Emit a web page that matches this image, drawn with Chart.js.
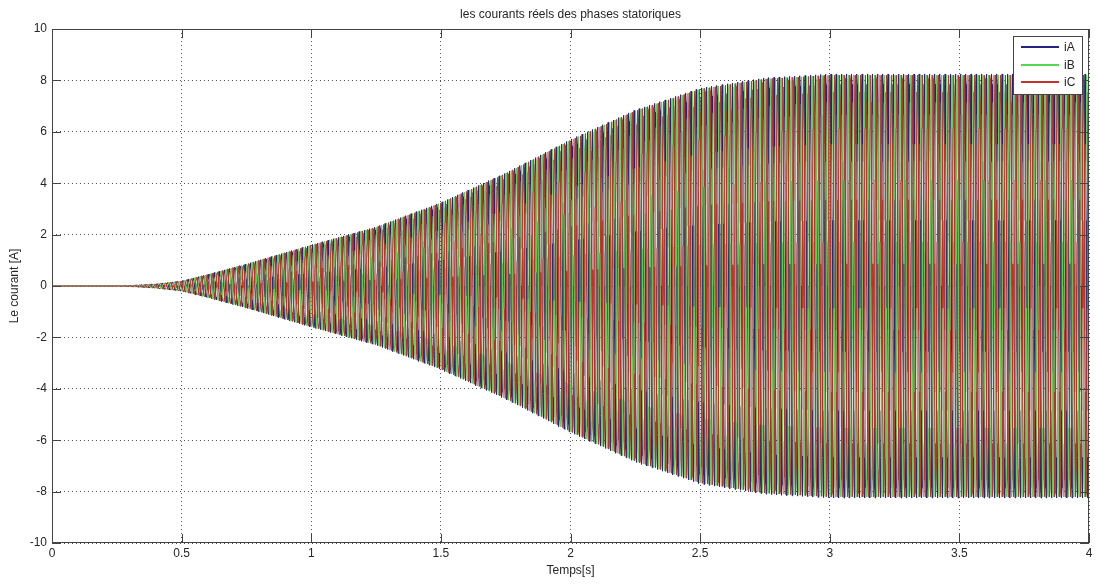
<!DOCTYPE html>
<html>
<head>
<meta charset="utf-8">
<script src="https://cdn.jsdelivr.net/npm/chart.js@4/dist/chart.umd.min.js"></script>
<style>
  html, body { margin: 0; padding: 0; background: #fff; }
  #wrap { width: 1097px; height: 585px; }
</style>
</head>
<body>
<div id="wrap"><canvas id="myChart" width="1097" height="585"></canvas></div>
<script>
// --- Data ---
const chartTitle = 'les courants réels des phases statoriques';
const xLabel = 'Temps[s]';
const yLabel = 'Le courant [A]';

const phaseNames = ['iA', 'iB', 'iC'];
const phaseColors = ['#24247e', '#55d655', '#c2322c'];
const phaseShiftDeg = [0, -120, 120];

// peak envelope of the currents (A) at given times (s)
const envTime = [0, 0.25, 0.3, 0.4, 0.5, 0.6, 0.75, 1.0, 1.25, 1.5, 1.75, 2.0, 2.25, 2.5, 2.75, 3.0, 3.5, 4.0];
const envAmp  = [0, 0, 0.02, 0.08, 0.2, 0.45, 0.86, 1.6, 2.3, 3.25, 4.4, 5.7, 6.85, 7.7, 8.1, 8.25, 8.25, 8.25];

const supplyFreq = 50;     // Hz
const sampleStep = 0.001;  // s
const tEnd = 4;

const xTicks = [0, 0.5, 1, 1.5, 2, 2.5, 3, 3.5, 4];
const yTicks = [-10, -8, -6, -4, -2, 0, 2, 4, 6, 8, 10];

// --- Build series ---
function envelopeAt(t) {
    for (let i = 1; i < envTime.length; i++) {
        if (t <= envTime[i]) {
            const f = (t - envTime[i - 1]) / (envTime[i] - envTime[i - 1]);
            return envAmp[i - 1] + f * (envAmp[i] - envAmp[i - 1]);
        }
    }
    return envAmp[envAmp.length - 1];
}

const nSamples = Math.round(tEnd / sampleStep);
const series = phaseShiftDeg.map(shift => {
    const pts = [];
    for (let k = 0; k <= nSamples; k++) {
        const t = k * sampleStep;
        pts.push({ x: t, y: envelopeAt(t) * Math.sin(2 * Math.PI * supplyFreq * t + shift * Math.PI / 180) });
    }
    return pts;
});

const FONT = "'Liberation Sans', Arial, sans-serif";
const TEXT_COLOR = '#262626';
const FRAME_COLOR = '#444';

// --- Frame, inward ticks, titles and legend ---
const matlabLook = {
    id: 'matlabLook',
    afterDraw(chart) {
        const ctx = chart.ctx;
        const a = chart.chartArea;
        const xs = chart.scales.x, ys = chart.scales.y;
        ctx.save();

        // frame
        ctx.strokeStyle = FRAME_COLOR;
        ctx.lineWidth = 1;
        ctx.strokeRect(a.left + 0.5, a.top + 0.5, a.right - a.left - 1, a.bottom - a.top - 1);

        // inward ticks
        ctx.beginPath();
        xTicks.forEach(v => {
            const px = Math.round(xs.getPixelForValue(v)) + 0.5;
            ctx.moveTo(px, a.bottom); ctx.lineTo(px, a.bottom - 9);
            ctx.moveTo(px, a.top); ctx.lineTo(px, a.top + 9);
        });
        yTicks.forEach(v => {
            const py = Math.round(ys.getPixelForValue(v)) + 0.5;
            ctx.moveTo(a.left, py); ctx.lineTo(a.left + 9, py);
            ctx.moveTo(a.right, py); ctx.lineTo(a.right - 9, py);
        });
        ctx.stroke();

        // texts
        ctx.fillStyle = TEXT_COLOR;
        ctx.font = '12px ' + FONT;
        ctx.textAlign = 'center';
        ctx.textBaseline = 'middle';
        const cx = (a.left + a.right) / 2;
        ctx.fillText(chartTitle, cx, 15);
        ctx.fillText(xLabel, cx, 571);
        ctx.save();
        ctx.translate(15, (a.top + a.bottom) / 2);
        ctx.rotate(-Math.PI / 2);
        ctx.fillText(yLabel, 0, 0);
        ctx.restore();

        // legend box (top right)
        const lx = 1013, ly = 36, lw = 69, lh = 58;
        ctx.fillStyle = '#fff';
        ctx.fillRect(lx, ly, lw, lh);
        ctx.strokeStyle = FRAME_COLOR;
        ctx.lineWidth = 1;
        ctx.strokeRect(lx + 0.5, ly + 0.5, lw, lh);
        ctx.textAlign = 'left';
        chart.data.datasets.forEach((ds, i) => {
            const yy = Math.round(ly + 11 + i * 17.5);
            ctx.strokeStyle = ds.borderColor;
            ctx.lineWidth = 2;
            ctx.beginPath();
            ctx.moveTo(lx + 8, yy);
            ctx.lineTo(lx + 46, yy);
            ctx.stroke();
            ctx.fillStyle = TEXT_COLOR;
            ctx.fillText(ds.label, lx + 51, yy + 1);
        });
        ctx.restore();
    }
};

const chartCanvas = document.getElementById('myChart');

const myChart = new Chart(chartCanvas, {
    type: 'line',
    data: {
        datasets: phaseNames.map((name, i) => ({
            label: name,
            data: series[i],
            borderColor: phaseColors[i],
            borderWidth: 1,
            pointRadius: 0,
            fill: false,
            tension: 0,
            order: phaseNames.length - i   // iC drawn last, like the original
        }))
    },
    options: {
        responsive: false,
        animation: false,
        parsing: false,
        normalized: true,
        events: [],
        layout: { padding: { left: 0, right: 8, top: 29, bottom: 0 } },
        plugins: {
            legend: { display: false },
            title: { display: false },
            tooltip: { enabled: false },
            decimation: { enabled: false }
        },
        scales: {
            x: {
                type: 'linear',
                min: 0,
                max: 4,
                afterFit: s => { s.height = 42; },
                afterBuildTicks: s => { s.ticks = xTicks.map(v => ({ value: v })); },
                ticks: {
                    color: TEXT_COLOR, font: { family: FONT, size: 12 }, padding: 3, maxRotation: 0,
                    callback: v => String(v)
                },
                grid: { color: '#555', lineWidth: 1, drawTicks: false },
                border: { display: false, dash: [1, 3] }
            },
            y: {
                type: 'linear',
                min: -10,
                max: 10,
                afterFit: s => { s.width = 52; },
                afterBuildTicks: s => { s.ticks = yTicks.map(v => ({ value: v })); },
                ticks: {
                    color: TEXT_COLOR, font: { family: FONT, size: 12 }, padding: 5,
                    callback: v => String(v)
                },
                grid: { color: '#555', lineWidth: 1, drawTicks: false },
                border: { display: false, dash: [1, 3] }
            }
        }
    },
    plugins: [matlabLook]
});
</script>
</body>
</html>
